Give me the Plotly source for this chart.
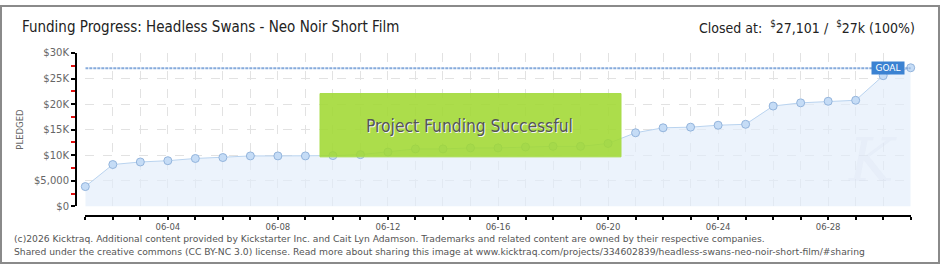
import pandas as pd
import plotly.graph_objects as go

W, H = 940, 270

dates = pd.date_range("2016-06-01", "2016-07-01", freq="D").strftime("%Y-%m-%d").tolist()
pledged = [3880, 8190, 8690, 8940, 9375, 9560, 9875, 9875, 9875, 9940, 10125,
           10625, 11250, 11250, 11440, 11440, 11625, 11750, 11750, 12310, 14400,
           15375, 15500, 15875, 16060, 19625, 20250, 20560, 20750, 25560, 27101]
goal = 27000
x_tickvals = ["2016-06-04", "2016-06-08", "2016-06-12", "2016-06-16",
              "2016-06-20", "2016-06-24", "2016-06-28"]
x_ticktext = ["06-04", "06-08", "06-12", "06-16", "06-20", "06-24", "06-28"]
y_tickvals = [0, 5000, 10000, 15000, 20000, 25000, 30000]
y_ticktext = ["$0", "$5,000", "$10K", "$15K", "$20K", "$25K", "$30K"]

title = "Funding Progress: Headless Swans - Neo Noir Short Film"
status = "Closed at:  <sup>$</sup>27,101 /  <sup>$</sup>27k (100%)"
footer1 = ("(c)2026 Kicktraq. Additional content provided by Kickstarter Inc. and Cait Lyn Adamson. "
           "Trademarks and related content are owned by their respective companies.")
footer2 = ("Shared under the creative commons (CC BY-NC 3.0) license. Read more about sharing this image at "
           "www.kicktraq.com/projects/334602839/headless-swans-neo-noir-short-film/#sharing")


def px(x):
    return x / W


def py(y):
    return 1 - y / H


fig = go.Figure()
fig.add_trace(go.Scatter(
    x=dates, y=pledged, mode="lines+markers", fill="tozeroy",
    fillcolor="rgba(226,237,250,0.65)",
    line=dict(color="#b9d3ef", width=1),
    marker=dict(size=8, color="#c5dcf6", line=dict(color="#93b4dc", width=1)),
    cliponaxis=False, hoverinfo="skip", showlegend=False,
))

fig.update_layout(
    width=W, height=H, margin=dict(l=0, r=0, t=0, b=0),
    paper_bgcolor="white", plot_bgcolor="white",
    xaxis=dict(
        type="date", domain=[px(85.3), px(910.7)],
        range=[dates[0], dates[-1]],
        anchor="free", position=py(220),
        tickmode="array", tickvals=x_tickvals, ticktext=x_ticktext,
        ticks="outside", ticklen=3, tickcolor="black", tickwidth=1.5,
        showline=True, linecolor="black", linewidth=2,
        showgrid=True, gridcolor="#e2e2e2", griddash="dash", gridwidth=1,
        tickfont=dict(family="DejaVu Sans", size=8.5, color="#555"),
        zeroline=False,
        minor=dict(tick0=dates[0], dtick=86400000, ticks="outside", ticklen=3,
                   tickcolor="black", tickwidth=1.5, showgrid=True,
                   gridcolor="#e2e2e2", griddash="dash", gridwidth=1),
    ),
    yaxis=dict(
        domain=[py(210), py(50)], range=[0, 30000],
        anchor="free", position=px(76),
        tickmode="array", tickvals=y_tickvals, ticktext=y_ticktext,
        ticks="outside", ticklen=4, tickcolor="black", tickwidth=1.5,
        showline=True, linecolor="black", linewidth=2,
        showgrid=True, gridcolor="#e2e2e2", griddash="dash", gridwidth=1,
        tickfont=dict(family="DejaVu Sans", size=10, color="#666"),
        zeroline=False,
        minor=dict(dtick=2500, tick0=0, ticks="outside", ticklen=4,
                   tickcolor="#e01010", tickwidth=1.5, showgrid=False),
    ),
)

# goal line
fig.add_shape(type="line", xref="x", yref="y", x0=dates[0], x1=dates[-1], y0=goal, y1=goal,
              line=dict(color="#86abdc", width=2, dash="3px,1px"), layer="above")

# success box
fig.add_shape(type="rect", xref="paper", yref="paper",
              x0=px(320), x1=px(621), y0=py(158.3), y1=py(92.3),
              fillcolor="rgba(160,216,50,0.88)", line=dict(color="#a8dc4a", width=1),
              layer="above")
fig.add_annotation(xref="paper", yref="paper", x=px(469), y=py(126), text="Project Funding Successful",
                   showarrow=False, xanchor="center", yanchor="middle",
                   font=dict(family="DejaVu Sans Condensed", size=17.3, color="#555",
                             shadow="1px 1px 0px #f4f4f4"))

# GOAL label
fig.add_annotation(xref="paper", yref="paper", x=px(888), y=py(65.5), text="GOAL",
                   showarrow=False, xanchor="center", yanchor="middle",
                   bgcolor="#3b82d2", borderpad=1, width=30,
                   font=dict(family="DejaVu Sans", size=9, color="white"))

# watermark
fig.add_annotation(xref="paper", yref="paper", x=px(872), y=py(162), text="<i>K</i>",
                   showarrow=False, xanchor="center", yanchor="middle",
                   font=dict(family="DejaVu Serif", size=60, color="rgba(215,225,240,0.25)"))

# y title
fig.add_annotation(xref="paper", yref="paper", x=px(20), y=py(130), text="PLEDGED",
                   showarrow=False, textangle=-90, xanchor="center", yanchor="middle",
                   font=dict(family="DejaVu Sans", size=8.5, color="#666"))

# header
fig.add_annotation(xref="paper", yref="paper", x=px(20), y=py(23), text=title,
                   showarrow=False, xanchor="left", yanchor="middle",
                   font=dict(family="DejaVu Sans Condensed", size=15, color="#222"))
fig.add_annotation(xref="paper", yref="paper", x=px(917), y=py(23), text=status,
                   showarrow=False, xanchor="right", yanchor="middle",
                   font=dict(family="DejaVu Sans Condensed", size=14, color="#222"))

# footer
fig.add_annotation(xref="paper", yref="paper", x=px(12), y=py(243.5), text=footer1,
                   showarrow=False, xanchor="left", yanchor="middle",
                   font=dict(family="DejaVu Sans", size=9.2, color="#555"))
fig.add_annotation(xref="paper", yref="paper", x=px(12), y=py(257), text=footer2,
                   showarrow=False, xanchor="left", yanchor="middle",
                   font=dict(family="DejaVu Sans", size=9.2, color="#555"))

# border
fig.add_shape(type="rect", xref="paper", yref="paper", x0=px(1), x1=px(939), y0=py(269), y1=py(1),
              line=dict(color="#8a8a8a", width=2), fillcolor="rgba(0,0,0,0)", layer="above")

fig.write_html("out.html")
